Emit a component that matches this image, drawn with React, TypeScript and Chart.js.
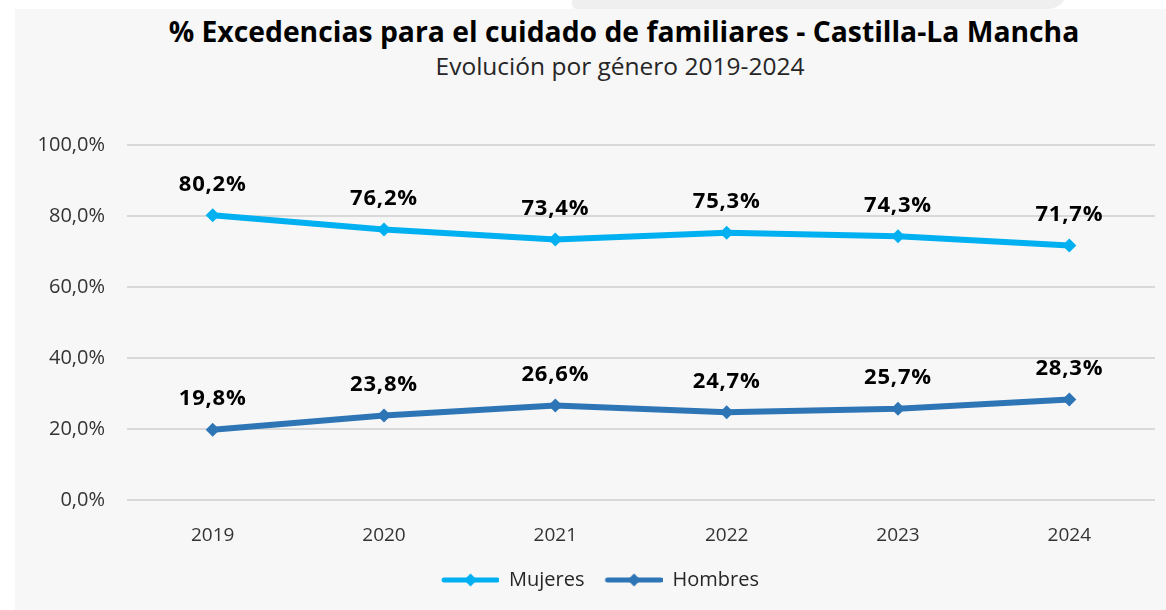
import React, { useEffect, useRef } from "react";
import { Chart, registerables } from "chart.js";

Chart.register(...registerables);

const years = ["2019", "2020", "2021", "2022", "2023", "2024"];
const mujeres = [80.2, 76.2, 73.4, 75.3, 74.3, 71.7];
const hombres = [19.8, 23.8, 26.6, 24.7, 25.7, 28.3];
const seriesNames = ["Mujeres", "Hombres"];
const seriesColors = ["#00b0f0", "#2e75b6"];
const yMin = 0;
const yMax = 100;
const yStep = 20;
const titleText = "% Excedencias para el cuidado de familiares - Castilla-La Mancha";
const subtitleText = "Evolución por género 2019-2024";

const FONT = '"Open Sans", "Noto Sans", sans-serif';

const fmt = (v: number, d: number) => v.toFixed(d).replace(".", ",") + "%";

function makeLegendImage(color: string): HTMLCanvasElement {
  const c = document.createElement("canvas");
  c.width = 66;
  c.height = 16;
  const ctx = c.getContext("2d")!;
  ctx.strokeStyle = color;
  ctx.lineWidth = 5;
  ctx.lineCap = "round";
  ctx.beginPath();
  ctx.moveTo(11, 8);
  ctx.lineTo(64, 8);
  ctx.stroke();
  ctx.fillStyle = color;
  const cx = 37.5;
  ctx.beginPath();
  ctx.moveTo(cx, 1.5);
  ctx.lineTo(cx + 6.5, 8);
  ctx.lineTo(cx, 14.5);
  ctx.lineTo(cx - 6.5, 8);
  ctx.closePath();
  ctx.fill();
  return c;
}

const dataLabelPlugin = {
  id: "dataLabels",
  afterDatasetsDraw(chart: any) {
    const ctx = chart.ctx;
    ctx.save();
    ctx.font = `bold 22px ${FONT}`;
    ctx.fillStyle = "#000000";
    ctx.textAlign = "center";
    ctx.textBaseline = "middle";
    try {
      (ctx as any).letterSpacing = "0.8px";
    } catch (e) {}
    chart.data.datasets.forEach((ds: any, i: number) => {
      const meta = chart.getDatasetMeta(i);
      meta.data.forEach((pt: any, j: number) => {
        ctx.fillText(fmt(ds.data[j], 1), pt.x, pt.y - 31);
      });
    });
    ctx.restore();
  },
};

export default function App() {
  const ref = useRef<HTMLCanvasElement | null>(null);

  useEffect(() => {
    if (!ref.current) return;
    const legendImgs = seriesColors.map(makeLegendImage);
    const mk = (i: number, data: number[]) => ({
      label: seriesNames[i],
      data,
      borderColor: seriesColors[i],
      backgroundColor: seriesColors[i],
      borderWidth: 6,
      pointStyle: "rectRot",
      pointRadius: 7,
      pointBorderWidth: 0,
      borderJoinStyle: "round",
      borderCapStyle: "round",
      tension: 0,
    });
    const chart = new Chart(ref.current, {
      type: "line",
      data: {
        labels: years,
        datasets: [mk(0, mujeres), mk(1, hombres)],
      },
      options: {
        animation: false,
        responsive: false,
        maintainAspectRatio: false,
        layout: { padding: { top: 145, left: 37, right: 11, bottom: 10 } },
        scales: {
          x: {
            offset: true,
            grid: { display: false },
            border: { display: false },
            ticks: { color: "#333333", font: { family: FONT, size: 19 }, padding: 16 },
            afterFit: (s: any) => {
              s.height = 58;
            },
          },
          y: {
            min: yMin,
            max: yMax,
            grid: { color: "#d9d9d9", lineWidth: 2, drawTicks: false },
            border: { display: false },
            ticks: {
              stepSize: yStep,
              color: "#333333",
              font: { family: FONT, size: 20 },
              padding: 22,
              callback: (v: any) => fmt(Number(v), 1),
            },
            afterFit: (s: any) => {
              s.width = 90;
            },
          },
        },
        plugins: {
          title: { display: false },
          tooltip: { enabled: false },
          legend: {
            position: "bottom",
            labels: {
              usePointStyle: true,
              pointStyleWidth: 66,
              padding: 12,
              color: "#262626",
              font: { family: FONT, size: 20 },
              generateLabels: (ch: any) => {
                const items = Chart.defaults.plugins.legend.labels.generateLabels(ch);
                return items.map((it: any, i: number) => ({ ...it, pointStyle: legendImgs[i] }));
              },
            },
          },
        },
      },
      plugins: [dataLabelPlugin],
    } as any);
    return () => chart.destroy();
  }, []);

  return (
    <div
      style={{
        position: "fixed",
        left: 0,
        top: 0,
        width: 1166,
        height: 610,
        background: "#ffffff",
        overflow: "hidden",
      }}
    >
      <div
        style={{
          position: "absolute",
          left: 572,
          top: -10,
          width: 495,
          height: 19,
          background: "#efefef",
          borderRadius: "0 0 40px 10px",
        }}
      />
      <div
        style={{
          position: "absolute",
          left: 15,
          top: 9,
          right: 0,
          bottom: 0,
          background: "#f7f7f7",
        }}
      />
      <div
        style={{
          position: "absolute",
          left: 124,
          width: 1000,
          top: 17,
          textAlign: "center",
          fontFamily: FONT,
          fontWeight: 700,
          fontSize: 28.3,
          lineHeight: "28px",
          color: "#000000",
          whiteSpace: "nowrap",
        }}
      >
        {titleText}
      </div>
      <div
        style={{
          position: "absolute",
          left: 120,
          width: 1000,
          top: 54,
          textAlign: "center",
          fontFamily: FONT,
          fontWeight: 400,
          fontSize: 24.5,
          lineHeight: "24px",
          color: "#262626",
          whiteSpace: "nowrap",
        }}
      >
        {subtitleText}
      </div>
      <canvas
        ref={ref}
        width={1166}
        height={610}
        style={{ position: "absolute", left: 0, top: 0, width: 1166, height: 610 }}
      />
    </div>
  );
}
